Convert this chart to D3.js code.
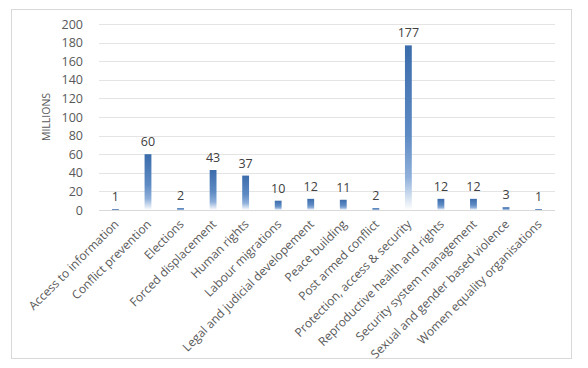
<!DOCTYPE html>
<html>
<head>
<meta charset="utf-8">
<script src="https://cdn.jsdelivr.net/npm/d3@7"></script>
<style>
    body { margin: 0; background: #fff; }
    text { font-family: "Open Sans", sans-serif; }
</style>
</head>
<body>
<script>

// chart data
var categories = [
    "Access to information",
    "Conflict prevention",
    "Elections",
    "Forced displacement",
    "Human rights",
    "Labour migrations",
    "Legal and judicial developement",
    "Peace building",
    "Post armed conflict",
    "Protection, access & security",
    "Reproductive health and rights",
    "Security system management",
    "Sexual and gender based violence",
    "Women equality organisations"
];
var amounts = [1, 60, 2, 43, 37, 10, 12, 11, 2, 177, 12, 12, 3, 1];
var yTicks = [0, 20, 40, 60, 80, 100, 120, 140, 160, 180, 200];
var yTitle = "MILLIONS";

var W = 588, H = 368;
var plot = { left: 99, right: 555, top: 24, bottom: 210 };

var svg = d3.select("body")
    .append("svg")
        .attr("width", W)
        .attr("height", H);

// outer frame
svg.append("rect")
    .attr("x", 11.5)
    .attr("y", 9.5)
    .attr("width", 560)
    .attr("height", 349)
    .attr("fill", "#fff")
    .attr("stroke", "#d9d9d9");

var x = d3.scaleBand()
    .domain(categories)
    .range([plot.left, plot.right])
    .paddingInner(0.79)
    .paddingOuter(0.4);

var y = d3.scaleLinear()
    .domain([0, 200])
    .range([plot.bottom, plot.top]);

// bar fill
var grad = svg.append("defs")
    .append("linearGradient")
        .attr("id", "barFill")
        .attr("x1", 0).attr("y1", 0)
        .attr("x2", 0).attr("y2", 1);
grad.append("stop").attr("offset", "0%").attr("stop-color", "#3b6cab");
grad.append("stop").attr("offset", "55%").attr("stop-color", "#5f8bc4");
grad.append("stop").attr("offset", "80%").attr("stop-color", "#8fb0da");
grad.append("stop").attr("offset", "100%").attr("stop-color", "#ffffff");

// gridlines
svg.append("g")
    .selectAll("line")
    .data(yTicks)
    .join("line")
        .attr("x1", plot.left)
        .attr("x2", plot.right)
        .attr("y1", function (d) { return Math.round(y(d)) + 0.5; })
        .attr("y2", function (d) { return Math.round(y(d)) + 0.5; })
        .attr("stroke", function (d) { return d === 0 ? "#d9d9d9" : "#e4e4e4"; });

// y axis labels
var yAxis = svg.append("g")
    .attr("transform", "translate(" + (plot.left - 16) + ",0)")
    .call(d3.axisLeft(y).tickValues(yTicks).tickSize(0).tickPadding(0));
yAxis.select(".domain").remove();
yAxis.selectAll("text")
    .attr("fill", "#595959")
    .style("font-size", "12.5px")
    .style("font-family", "'Open Sans', sans-serif");

svg.append("text")
    .attr("transform", "translate(50," + ((plot.top + plot.bottom) / 2) + ") rotate(-90)")
    .attr("text-anchor", "middle")
    .attr("fill", "#595959")
    .style("font-size", "10.5px")
    .text(yTitle);

// bars
svg.append("g")
    .selectAll("rect")
    .data(amounts)
    .join("rect")
        .attr("x", function (d, i) { return x(categories[i]); })
        .attr("y", function (d) { return y(d); })
        .attr("width", x.bandwidth())
        .attr("height", function (d) { return y(0) - y(d); })
        .attr("fill", "url(#barFill)");

// value labels
svg.append("g")
    .selectAll("text")
    .data(amounts)
    .join("text")
        .attr("x", function (d, i) { return x(categories[i]) + x.bandwidth() / 2; })
        .attr("y", function (d) { return y(d) - 8; })
        .attr("text-anchor", "middle")
        .attr("fill", "#404040")
        .style("font-size", "12.5px")
        .text(function (d) { return d; });

// category labels
var xAxis = svg.append("g")
    .attr("transform", "translate(0," + plot.bottom + ")")
    .call(d3.axisBottom(x).tickSize(0).tickPadding(0));
xAxis.select(".domain").remove();
xAxis.selectAll("text")
    .attr("fill", "#595959")
    .style("font-size", "12px")
    .style("font-family", "'Open Sans', sans-serif")
    .attr("text-anchor", "end")
    .attr("dy", 0)
    .attr("transform", "translate(4,15) rotate(-45)");

</script>
</body>
</html>
